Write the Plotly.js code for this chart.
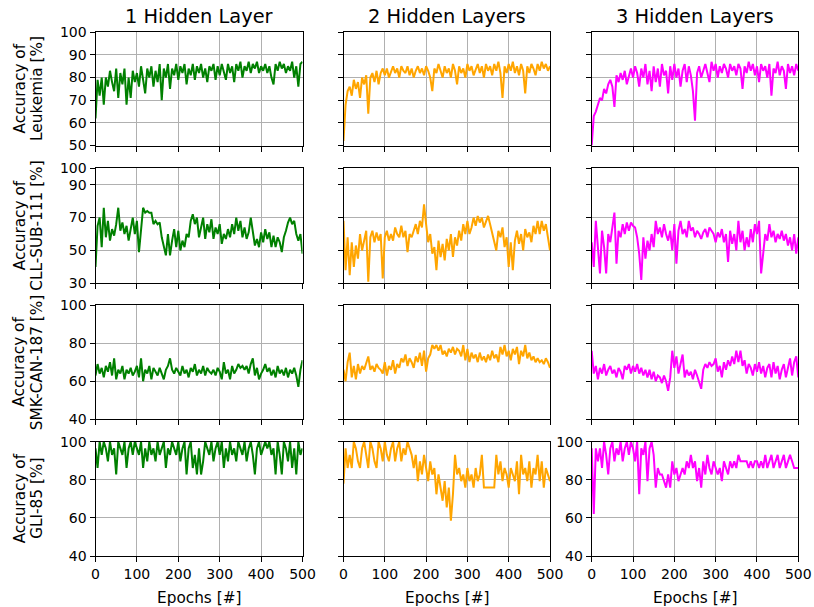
<!DOCTYPE html>
<html>
<head>
<meta charset="utf-8">
<script src="https://cdn.plot.ly/plotly-3.0.1.min.js"></script>
<style>html,body{margin:0;padding:0;background:#fff;}#chart{width:814px;height:607px;}</style>
</head>
<body>
<div id="chart"></div>
<script>
// ---- data (accuracy [%], read every 5 epochs) ----
const EPOCH_STEP = 5;
const colTitles = ['1 Hidden Layer', '2 Hidden Layers', '3 Hidden Layers'];
const rowNames = ['Leukemia', 'CLL-SUB-111', 'SMK-CAN-187', 'GLI-85'];
const xTicks = [0, 100, 200, 300, 400, 500];
const yTicksLeuk = [50, 60, 70, 80, 90, 100];
const yTicksCll = [30, 50, 70, 90, 100];
const yTicksSmk = [40, 60, 80, 100];
const yTicksGli = [40, 60, 80, 100];

const leuk1 = [62,79,72,80,68,80,76,83,78,74, 84,71,82,77,84,68,80,71,83,78, 82,76,85,79,73,84,80,85,76,83,
  78,86,70,84,80,86,75,84,81,86, 79,85,82,86,77,84,81,86,79,85, 82,86,80,84,78,85,83,86,79,85,
  81,86,83,79,86,82,85,78,86,83, 87,80,85,83,87,82,86,84,87,82, 85,83,86,82,85,80,77,86,83,87,
  84,86,82,85,83,87,80,85,76,86, 87];
const leuk2 = [52,68,74,76,72,79,75,78,71,80, 77,81,64,80,82,78,83,77,82,84, 81,84,80,83,85,82,84,80,85,83,
  82,85,81,84,80,83,85,82,84,81, 85,83,80,74,84,82,86,83,80,85, 82,84,80,86,83,77,85,82,84,80,
  86,83,85,81,84,86,82,85,80,86, 83,85,81,86,83,87,82,71,85,82, 86,83,87,82,85,81,86,83,73,85,
  82,86,84,81,86,83,87,84,86,83, 85];
const leuk3 = [50,63,65,68,71,70,75,73,77,79, 76,67,81,78,82,79,83,77,81,84, 80,85,82,76,84,80,86,77,83,74,
  85,78,84,76,86,81,83,73,85,79, 86,80,84,76,83,86,78,85,81,74, 61,82,85,80,83,86,82,78,87,83,
  86,80,85,82,86,84,80,86,83,85, 81,86,84,75,85,82,87,83,86,81, 85,78,86,83,85,80,86,72,84,82,
  87,81,85,83,75,86,82,85,81,86, 83];

const cll1 = [40,65,70,52,76,58,68,56,63,59, 66,76,62,67,60,65,56,62,70,60, 68,49,63,76,73,74,73,73,66,68,
  66,67,58,52,47,60,47,56,63,52, 62,50,56,52,60,58,68,72,66,70, 58,64,70,57,66,61,69,57,64,60,
  66,54,60,57,63,58,66,60,70,62, 68,58,64,57,61,70,60,53,57,52, 61,55,63,57,61,52,59,52,58,55,
  49,58,62,67,70,66,68,60,56,60, 48];
const cll2 = [68,38,58,35,55,40,53,45,60,50, 56,62,31,58,62,55,61,56,60,33, 58,62,56,60,56,64,60,58,65,58,
  62,49,60,58,62,66,60,68,64,78, 66,55,60,48,52,38,56,46,54,44, 57,50,60,46,58,53,62,56,66,60,
  68,60,64,70,65,71,67,70,64,68, 71,66,60,55,50,62,58,64,52,58, 40,55,38,56,62,54,60,50,63,58,
  61,55,65,60,68,60,68,62,66,58, 50];
const cll3 = [55,40,68,50,36,62,52,36,60,55, 63,73,42,62,58,66,60,67,62,67, 65,64,58,48,32,58,45,56,50,60,
  52,68,60,64,58,66,60,56,62,50, 66,42,62,68,60,63,58,68,62,64, 58,62,60,57,61,63,58,64,62,60,
  55,61,58,63,55,60,43,62,54,60, 50,68,55,62,50,58,52,63,55,66, 60,68,36,50,60,56,66,58,62,55,
  60,57,62,56,60,53,58,50,60,48, 58];

const smk1 = [63,69,64,67,62,68,65,70,63,72, 61,66,64,68,61,66,64,67,63,65, 68,62,72,60,66,64,68,61,67,65,
  63,67,64,61,66,68,72,66,64,67, 65,63,68,64,66,62,67,65,69,63, 66,64,68,63,67,65,64,66,63,67,
  65,61,70,64,66,61,68,64,66,69, 67,68,66,68,64,69,72,63,67,61, 64,66,69,65,67,63,66,62,68,64,
  66,63,67,62,66,64,67,63,57,66, 71];
const smk2 = [66,60,70,75,62,68,61,69,64,68, 66,70,73,66,68,65,69,67,66,64, 70,63,68,66,71,64,69,67,72,70,
  74,68,72,70,67,73,70,75,68,76, 65,72,74,79,77,79,76,79,74,76, 73,77,75,78,74,77,76,73,79,71,
  77,70,75,72,74,70,75,71,73,70, 74,71,76,72,74,70,78,74,79,73, 76,71,77,74,78,69,76,73,79,72,
  75,71,73,70,72,70,71,69,72,70, 67];
const smk3 = [76,64,68,61,67,64,69,63,66,68, 64,66,62,67,65,61,68,66,69,64, 68,65,69,64,67,63,66,62,66,61,
  65,60,63,62,59,63,60,55,62,76, 67,73,64,70,74,62,66,63,65,61, 66,63,59,56,66,69,67,70,68,69,
  72,65,68,62,70,66,71,68,73,69, 76,70,76,68,71,64,69,67,63,69, 65,70,64,68,62,67,69,62,70,64,
  68,61,66,69,62,68,72,63,70,73, 62];

const gli1 = [96.5,86.2,100,93.1,100,96.5,89.7,100,93.1,96.5, 82.8,100,96.5,93.1,100,86.2,96.5,100,93.1,100,
  96.5,93.1,100,86.2,96.5,89.7,100,93.1,96.5,89.7, 100,93.1,96.5,100,86.2,96.5,93.1,100,96.5,93.1,
  100,89.7,96.5,100,82.8,96.5,100,86.2,93.1,82.8, 96.5,82.8,89.7,100,96.5,93.1,100,89.7,96.5,100,
  93.1,100,86.2,96.5,89.7,100,93.1,96.5,89.7,100, 96.5,93.1,100,89.7,96.5,100,93.1,82.8,96.5,100,
  93.1,96.5,100,96.5,100,93.1,96.5,82.8,100,93.1, 82.8,100,96.5,89.7,100,86.2,96.5,82.8,100,93.1, 96.5];
const gli2 = [78,96.5,86.2,93.1,86.2,100,96.5,89.7,86.2,96.5, 100,93.1,86.2,100,96.5,89.7,86.2,100,96.5,89.7,
  100,93.1,89.7,96.5,100,89.7,96.5,100,89.7,96.5, 93.1,100,96.5,93.1,86.2,93.1,79.3,89.7,82.8,93.1,
  86.2,79.3,89.7,82.8,86.2,72.4,82.8,75.9,69,79.3, 65.5,75.9,58.6,72.4,93.1,82.8,86.2,79.3,82.8,75.9,
  86.2,79.3,82.8,75.9,86.2,79.3,82.8,93.1,75.9,75.9, 75.9,75.9,75.9,75.9,93.1,82.8,89.7,79.3,86.2,82.8,
  75.9,86.2,82.8,79.3,89.7,72.4,93.1,82.8,86.2,79.3, 89.7,75.9,86.2,82.8,93.1,79.3,89.7,75.9,86.2,82.8, 79.3];
const gli3 = [96.5,62.1,96.5,89.7,96.5,86.2,100,93.1,82.8,96.5, 100,89.7,96.5,93.1,100,89.7,96.5,100,93.1,100,
  96.5,89.7,100,72.4,96.5,93.1,100,79.3,96.5,100, 93.1,75.9,86.2,82.8,82.8,79.3,75.9,82.8,75.9,89.7,
  82.8,86.2,79.3,82.8,86.2,82.8,89.7,86.2,93.1,86.2, 89.7,79.3,86.2,75.9,89.7,82.8,93.1,86.2,82.8,89.7,
  86.2,82.8,86.2,79.3,89.7,86.2,82.8,89.7,86.2,89.7, 86.2,93.1,89.7,89.7,89.7,89.7,86.2,89.7,86.2,89.7,
  89.7,86.2,89.7,86.2,93.1,86.2,89.7,93.1,86.2,89.7, 93.1,86.2,89.7,93.1,86.2,89.7,93.1,89.7,86.2,86.2, 86.2];

const grid = [
  [leuk1, leuk2, leuk3],
  [cll1, cll2, cll3],
  [smk1, smk2, smk3],
  [gli1, gli2, gli3]
];
const rowTicks = [yTicksLeuk, yTicksCll, yTicksSmk, yTicksGli];
const rowRanges = [[50, 100], [30, 100], [40, 100], [40, 100]];
const colColors = ['#008000', '#FFA500', '#FF00FF'];

// ---- layout geometry ----
const W = 814, H = 607;
const colPx = [[95.5, 302.5], [343.5, 550], [591.7, 798.3]];
const rowPx = [[32.3, 145.5], [168.3, 283.3], [305, 419.3], [441.7, 556]];
const FONT = 'DejaVu Sans, sans-serif';
const LABEL_SIZE = 15.3;

const traces = [];
const layout = {
  width: W, height: H,
  margin: {l: 0, r: 0, t: 0, b: 0, pad: 0},
  paper_bgcolor: '#ffffff', plot_bgcolor: '#ffffff',
  showlegend: false,
  font: {family: FONT, size: 14, color: '#000'},
  annotations: []
};

for (let r = 0; r < 4; r++) {
  for (let c = 0; c < 3; c++) {
    const idx = r * 3 + c + 1;
    const xs = idx === 1 ? 'x' : 'x' + idx;
    const ys = idx === 1 ? 'y' : 'y' + idx;
    const yv = grid[r][c];
    traces.push({
      type: 'scatter', mode: 'lines',
      x: yv.map((_, i) => i * EPOCH_STEP), y: yv,
      xaxis: xs, yaxis: ys,
      line: {color: colColors[c], width: 2},
      hoverinfo: 'skip'
    });
    const common = {
      showgrid: true, gridcolor: '#b0b0b0', gridwidth: 1,
      showline: true, mirror: true, linecolor: '#000', linewidth: 1,
      ticks: 'outside', ticklen: 5, tickwidth: 1, tickcolor: '#000',
      zeroline: false, fixedrange: true,
      tickfont: {family: FONT, size: 14, color: '#000'}
    };
    layout['xaxis' + (idx === 1 ? '' : idx)] = Object.assign({}, common, {
      domain: [colPx[c][0] / W, colPx[c][1] / W],
      anchor: ys, range: [0, 500], tickmode: 'array', tickvals: xTicks,
      showticklabels: r === 3
    });
    layout['yaxis' + (idx === 1 ? '' : idx)] = Object.assign({}, common, {
      domain: [1 - rowPx[r][1] / H, 1 - rowPx[r][0] / H],
      anchor: xs, range: rowRanges[r], tickmode: 'array', tickvals: rowTicks[r],
      showticklabels: c === 0 || (r === 3 && c === 2)
    });
  }
}

// column titles and x labels
for (let c = 0; c < 3; c++) {
  const cx = (colPx[c][0] + colPx[c][1]) / 2 / W;
  layout.annotations.push({
    text: colTitles[c], xref: 'paper', yref: 'paper', x: cx, y: 1 - 17 / H,
    xanchor: 'center', yanchor: 'middle', showarrow: false,
    font: {family: FONT, size: 19.4, color: '#000'}
  });
  layout.annotations.push({
    text: 'Epochs [#]', xref: 'paper', yref: 'paper', x: cx, y: 1 - 598 / H,
    xanchor: 'center', yanchor: 'middle', showarrow: false,
    font: {family: FONT, size: LABEL_SIZE, color: '#000'}
  });
}
// row labels (two lines)
for (let r = 0; r < 4; r++) {
  const cy = 1 - (rowPx[r][0] + rowPx[r][1]) / 2 / H;
  layout.annotations.push({
    text: 'Accuracy of', xref: 'paper', yref: 'paper',
    x: 19.5 / W, y: cy, xanchor: 'center', yanchor: 'middle', textangle: -90,
    showarrow: false, font: {family: FONT, size: LABEL_SIZE, color: '#000'}
  });
  layout.annotations.push({
    text: rowNames[r] + ' [%]', xref: 'paper', yref: 'paper',
    x: 37 / W, y: cy, xanchor: 'center', yanchor: 'middle', textangle: -90,
    showarrow: false, font: {family: FONT, size: LABEL_SIZE, color: '#000'}
  });
}

Plotly.newPlot('chart', traces, layout, {displayModeBar: false, staticPlot: true});
</script>
</body>
</html>
